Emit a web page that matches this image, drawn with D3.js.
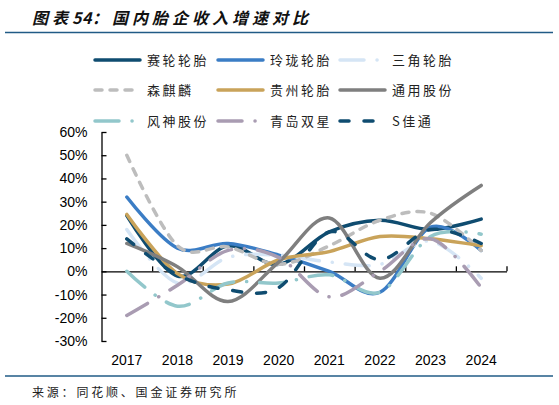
<!DOCTYPE html>
<html>
<head>
<meta charset="utf-8">
<script src="https://cdn.jsdelivr.net/npm/d3@7"></script>
<style>
  body { margin: 0; background: #fff; }
  svg { display: block; }
  text { font-family: "Noto Sans CJK SC", "Liberation Sans", sans-serif; }
  .num { font-family: "Liberation Sans", Arial, sans-serif; }
</style>
</head>
<body>
<div id="chart"></div>
<script>
// years on the x axis
const years = ['2017', '2018', '2019', '2020', '2021', '2022', '2023', '2024'];

// revenue growth, %
const sailun   = [24, -2, 11, 3, 17, 22, 18, 22.5];
const linglong = [32, 10, 12, 7, 0, -9, 19, 9];
const sanjiao  = [18, -5, 6, 7, 4, 3, 13, -3];
const senqilin = [50, 11, 10.5, 3, 11, 22, 25, 9];
const guizhou  = [24.5, -1, -5.5, 5, 8.5, 15, 14, 11];
const tongyong = [12, 2, -13, 4, 23, -3, 21, 37];
const fengshen = [0, -15, -5, -5, -1.5, -9, 15, 16];
const shuangxing = [-19, -6, 9, 6, -11, 0, 14, -7];
const jiatong  = [14, -1.5, -8, -7, 17, 5, 18, 12];

const yTicks = [-30, -20, -10, 0, 10, 20, 30, 40, 50, 60];

const series = [
  { name: '赛轮轮胎', values: sailun, color: '#0f4c70', dash: null },
  { name: '玲珑轮胎', values: linglong, color: '#3b7dc5', dash: null },
  { name: '三角轮胎', values: sanjiao, color: '#d5e5f5', dash: '24,13,0.1,13' },
  { name: '森麒麟', values: senqilin, color: '#bdbdbd', dash: '7,8' },
  { name: '贵州轮胎', values: guizhou, color: '#c9a35a', dash: null },
  { name: '通用股份', values: tongyong, color: '#7f7f7f', dash: null },
  { name: '风神股份', values: fengshen, color: '#92c7cb', dash: '24,13,0.1,13' },
  { name: '青岛双星', values: shuangxing, color: '#a99cb2', dash: '24,13,0.1,13' },
  { name: 'S佳通', values: jiatong, color: '#0f4c70', dash: '9,15' },
];

const W = 559, H = 405;
const svg = d3.select('#chart').append('svg')
  .attr('width', W)
  .attr('height', H);

// title + rules
const title = svg.append('text')
  .attr('x', 32)
  .attr('y', 24)
  .attr('font-size', 16)
  .attr('font-weight', 'bold')
  .attr('font-style', 'italic')
  .attr('fill', '#111');
title.append('tspan').attr('letter-spacing', 4).text('图表');
title.append('tspan').attr('letter-spacing', 0.5).text('54');
title.append('tspan').attr('letter-spacing', 4).text('：国内胎企收入增速对比');

svg.append('line')
  .attr('x1', 5).attr('x2', 553).attr('y1', 32.5).attr('y2', 32.5)
  .attr('stroke', '#215b86').attr('stroke-width', 1.5);

svg.append('line')
  .attr('x1', 5).attr('x2', 553).attr('y1', 376).attr('y2', 376)
  .attr('stroke', '#215b86').attr('stroke-width', 1.5);

svg.append('text')
  .attr('x', 32)
  .attr('y', 397)
  .attr('font-size', 12)
  .attr('letter-spacing', 2.8)
  .attr('fill', '#222')
  .text('来源：同花顺、国金证券研究所');

// plot area
const plotLeft = 101.5, plotRight = 506.5, plotTop = 132, plotBottom = 341;

const x = d3.scaleBand()
  .domain(years)
  .range([plotLeft, plotRight])
  .padding(0);

const xIdx = d3.scaleLinear()
  .domain([0, years.length])
  .range([plotLeft, plotRight]);

const y = d3.scaleLinear()
  .domain([-30, 60])
  .range([plotBottom, plotTop]);

const cx = (d, i) => x(years[i]) + x.bandwidth() / 2;

// Y axis: ticks point inwards
const yAxis = svg.append('g')
  .attr('transform', `translate(${plotLeft},0)`)
  .call(d3.axisLeft(y)
    .tickValues(yTicks)
    .tickFormat(d => d + '%')
    .tickSizeInner(-5)
    .tickSizeOuter(0)
    .tickPadding(14));
yAxis.select('.domain').attr('stroke', '#000').attr('stroke-width', 1.3);
yAxis.selectAll('.tick line').attr('stroke', '#000').attr('stroke-width', 1.3);
yAxis.selectAll('text')
  .attr('class', 'num')
  .attr('font-size', 14)
  .attr('fill', '#000');

// year labels at the bottom
const xLabels = svg.append('g')
  .attr('transform', `translate(0,${plotBottom + 11})`)
  .call(d3.axisBottom(x).tickSize(0).tickPadding(3));
xLabels.select('.domain').remove();
xLabels.selectAll('text')
  .attr('class', 'num')
  .attr('font-size', 14)
  .attr('fill', '#000');

// zero line with tick marks between categories
const zeroAxis = svg.append('g')
  .attr('transform', `translate(0,${y(0)})`)
  .call(d3.axisBottom(xIdx)
    .tickValues(d3.range(1, years.length + 1))
    .tickFormat('')
    .tickSizeInner(-5)
    .tickSizeOuter(0));
zeroAxis.select('.domain').attr('stroke', '#000').attr('stroke-width', 1.3);
zeroAxis.selectAll('.tick line').attr('stroke', '#000').attr('stroke-width', 1.3);

// lines (smoothed like Excel)
const line = d3.line()
  .x(cx)
  .y(d => y(d))
  .curve(d3.curveCardinal.tension(0));

svg.append('g')
  .selectAll('path')
  .data(series)
  .enter()
  .append('path')
    .attr('d', s => line(s.values))
    .attr('fill', 'none')
    .attr('stroke', s => s.color)
    .attr('stroke-width', 3.5)
    .attr('stroke-linecap', 'round')
    .attr('stroke-dasharray', s => s.dash);

// legend, 3 per row
const colX = [93, 216, 338];
const rowY = [60, 90, 121];
const legend = svg.append('g')
  .selectAll('g')
  .data(series)
  .enter()
  .append('g')
    .attr('transform', (s, i) => `translate(${colX[i % 3]},${rowY[Math.floor(i / 3)]})`);

legend.append('line')
  .attr('x1', 2).attr('x2', 47).attr('y1', 0).attr('y2', 0)
  .attr('stroke', s => s.color)
  .attr('stroke-width', 3.5)
  .attr('stroke-linecap', 'round')
  .attr('stroke-dasharray', s => s.dash);

legend.append('text')
  .attr('x', 54)
  .attr('y', 5)
  .attr('font-size', 13)
  .attr('letter-spacing', 2.5)
  .attr('fill', '#222')
  .text(s => s.name);
</script>
</body>
</html>
